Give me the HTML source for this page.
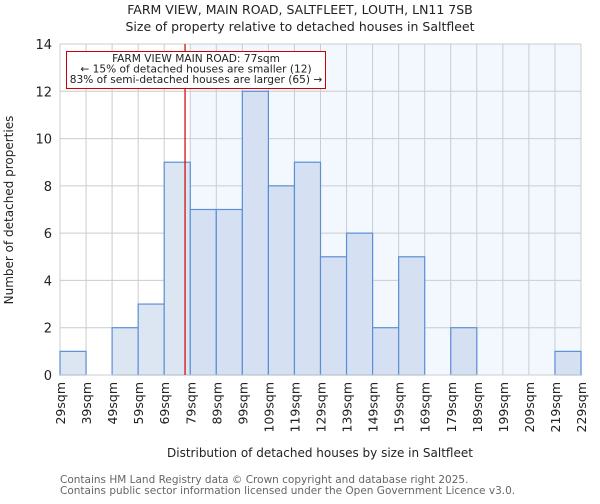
<!DOCTYPE html>
<html><head><meta charset="utf-8"><style>
body{margin:0;background:#fff;font-family:"DejaVu Sans","Liberation Sans",sans-serif;}
svg text{font-family:"DejaVu Sans","Liberation Sans",sans-serif;}
</style></head><body>
<svg id="chart" width="600" height="500" xmlns="http://www.w3.org/2000/svg">
<text x="300" y="14" text-anchor="middle" font-size="12.5" fill="#222">FARM VIEW, MAIN ROAD, SALTFLEET, LOUTH, LN11 7SB</text>
<text x="300" y="31" text-anchor="middle" font-size="12.5" fill="#222">Size of property relative to detached houses in Saltfleet</text>
<g id="plot"></g>
<text transform="translate(13,210) rotate(-90)" text-anchor="middle" font-size="12" fill="#222">Number of detached properties</text>
<text x="320" y="457" text-anchor="middle" font-size="12" fill="#222">Distribution of detached houses by size in Saltfleet</text>
<text x="60" y="483" font-size="10.5" fill="#666">Contains HM Land Registry data © Crown copyright and database right 2025.</text>
<text x="60" y="494" font-size="10.5" fill="#666">Contains public sector information licensed under the Open Government Licence v3.0.</text>
</svg>
<script>
const binEdges=[29,39,49,59,69,79,89,99,109,119,129,139,149,159,169,179,189,199,209,219,229];
const counts=[1,0,2,3,9,7,7,12,8,9,5,6,2,5,0,2,0,0,0,1];
const yTicks=[0,2,4,6,8,10,12,14];
const subjectSize=77;
const NS="http://www.w3.org/2000/svg";
const g=document.getElementById('plot');
const X0=60,X1=581,Y0=375,Y1=44,xmin=29,xmax=229,ymax=14;
const xs=v=>X0+(v-xmin)/(xmax-xmin)*(X1-X0);
const ys=v=>Y0-v/ymax*(Y0-Y1);
function el(t,a){const e=document.createElementNS(NS,t);for(const k in a)e.setAttribute(k,a[k]);g.appendChild(e);return e;}
const shadeStart=binEdges.find(b=>b>=subjectSize);
let r=el('rect',{x:xs(shadeStart),y:Y1,width:X1-xs(shadeStart),height:Y0-Y1,fill:'#f3f7fe'});


binEdges.forEach(b=>{let l=el('line',{x1:xs(b),x2:xs(b),y1:Y1,y2:Y0,stroke:'#cccccc','stroke-width':1});

});
yTicks.forEach(t=>{let l=el('line',{x1:X0,x2:X1,y1:ys(t),y2:ys(t),stroke:'#cccccc','stroke-width':1});


let tx=el('text',{x:X0-8,y:ys(t)+5,'text-anchor':'end','font-size':13,fill:'#222'});tx.textContent=t;

});
counts.forEach((c,i)=>{if(c<=0)return;const a=xs(binEdges[i]),b=xs(binEdges[i+1]);
let bar=el('rect',{x:a,y:ys(c),width:b-a,height:Y0-ys(c),fill:binEdges[i]>=shadeStart?'#d5e1f3':'#dce6f3',stroke:'#5b8fd6','stroke-width':1.2});

});
binEdges.forEach(b=>{let tx=el('text',{transform:`translate(${xs(b)+5},382) rotate(-90)`,'text-anchor':'end','font-size':12.5,fill:'#222'});tx.textContent=b+'sqm';

});
let ax=el('line',{x1:X0,x2:X1,y1:Y0,y2:Y0,stroke:'#cccccc','stroke-width':1});


let ml=el('line',{x1:xs(subjectSize),x2:xs(subjectSize),y1:Y1,y2:Y0,stroke:'#cc0000','stroke-width':1.2});


let box=el('rect',{x:66.5,y:51.5,width:259,height:37,fill:'#fff',stroke:'#cc0000','stroke-width':1});


["FARM VIEW MAIN ROAD: 77sqm","← 15% of detached houses are smaller (12)","83% of semi-detached houses are larger (65) →"].forEach((s,i)=>{
let tx=el('text',{x:196,y:62+i*10.5,'text-anchor':'middle','font-size':10.6,fill:'#222'});tx.textContent=s;

});
</script>
</body></html>
